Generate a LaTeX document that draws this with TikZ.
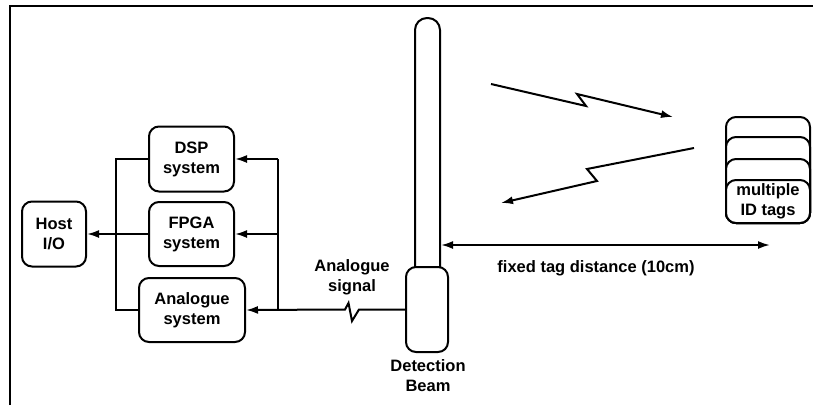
\documentclass[tikz,border=0pt]{standalone}
\usepackage{fontspec}
\setmainfont{Liberation Sans}
\usetikzlibrary{arrows.meta,calc}
\begin{document}
\begin{tikzpicture}[x=1pt,y=-1pt,
  line width=2pt,
  every node/.style={font=\bfseries\fontsize{16.5}{20}\selectfont, align=center, inner sep=0pt},
  blk/.style={draw, rounded corners=10pt, fill=white},
  arr/.style={-{Latex[length=12pt,width=8pt]}},
  darr/.style={{Latex[length=12pt,width=8pt]}-{Latex[length=12pt,width=8pt]}}
]
\useasboundingbox (0,0) rectangle (813,405);
% frame
\draw (10,405) -- (10,6) -- (813,6);

% blocks
\node[blk, minimum width=64pt, minimum height=65pt] (host) at (54,234) {Host\\I/O};
\node[blk, minimum width=85pt, minimum height=65pt] (dsp) at (191.5,159) {DSP\\system};
\node[blk, minimum width=85pt, minimum height=64pt] (fpga) at (191.5,234) {FPGA\\system};
\node[blk, minimum width=106pt, minimum height=64pt] (ana) at (192,310) {Analogue\\system};

% beam
\node[blk, rounded corners=12pt, minimum width=25pt, minimum height=267pt] (tube) at (427.5,151.5) {};
\node[blk, minimum width=42pt, minimum height=85pt] (base) at (427,309.5) {};
\node (beamlbl) at (428,376) {Detection\\Beam};

% left bus
\draw (dsp.west) -- ++(-32,0) |- (ana.west);
\draw[arr] (fpga.west) -- (host.east);

% right bus
\coordinate (rt) at (278,159);
\coordinate (rm) at (278,234);
\coordinate (rb) at (278,309.5);
\draw (rt) -- (rb);
\draw[arr] (rt) -- (dsp.east);
\draw[arr] (rm) -- (fpga.east);

% analogue signal with zigzag
\coordinate (z1) at (359,309.5);
\coordinate (z2) at (352,321);
\coordinate (z3) at (348.5,303);
\coordinate (z4) at (345,309.5);
\draw[arr, line join=miter] (base.west) -- (z1) -- (z2) -- (z3) -- (z4) -- (ana.east);
\node (siglbl) at (352,277.5) {Analogue\\signal};

% fixed distance arrow
\coordinate (dend) at (770,245);
\draw[darr] (tube.east |- dend) -- (dend);
\node (distlbl) at (596,268) {fixed tag distance (10cm)};

% tags
\node[blk, minimum width=84pt, minimum height=106pt] (tag1) at (768,170) {};
\node[blk, minimum width=84pt, minimum height=86pt] (tag2) at (768,180) {};
\node[blk, minimum width=84pt, minimum height=64pt] (tag3) at (768,191) {};
\node[blk, minimum width=84pt, minimum height=43pt] (tag4) at (768,201.5) {multiple\\ID tags};

% wireless links
\coordinate (u1) at (491,84);
\coordinate (u2) at (586,106);
\coordinate (u3) at (577,94);
\coordinate (u4) at (673,117);
\draw[arr, line join=miter] (u1) -- (u2) -- (u3) -- (u4);
\coordinate (l1) at (694,148);
\coordinate (l2) at (587,169);
\coordinate (l3) at (597,181);
\coordinate (l4) at (501,203);
\draw[arr, line join=miter] (l1) -- (l2) -- (l3) -- (l4);
\end{tikzpicture}
\end{document}
